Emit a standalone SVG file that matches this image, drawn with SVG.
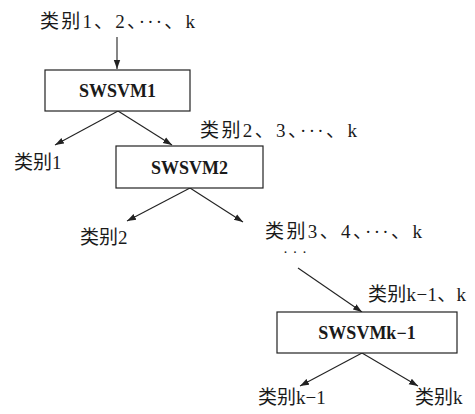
<svg xmlns="http://www.w3.org/2000/svg" width="475" height="414" viewBox="0 0 475 414">
<style>
.lbl{font-family:"Liberation Serif","Noto Sans CJK SC",serif;font-size:19px;fill:#1a1a1a}
.box rect{fill:#fff;stroke:#222;stroke-width:1.2}
.box text{font-family:"Liberation Serif","Noto Sans CJK SC",serif;font-size:18px;font-weight:bold;fill:#1a1a1a;text-anchor:middle}
.con line{stroke:#222;stroke-width:1.1;marker-end:url(#ah)}
</style>
<defs>
<marker id="ah" markerUnits="userSpaceOnUse" markerWidth="10" markerHeight="8" refX="9" refY="4" orient="auto">
<path d="M0,0.8 L9,4 L0,7.2 Z" fill="#222"/>
</marker>
</defs>
<rect width="475" height="414" fill="#fff"/>
<g id="connectors" class="con">
<line x1="117" y1="37" x2="117" y2="69"/>
<line x1="118" y1="111" x2="55" y2="145"/>
<line x1="118" y1="111" x2="172" y2="145"/>
<line x1="190" y1="188" x2="127" y2="221"/>
<line x1="190" y1="188" x2="243" y2="222"/>
<line x1="298" y1="268" x2="362" y2="312"/>
<line x1="362" y1="353" x2="300" y2="386"/>
<line x1="362" y1="353" x2="418" y2="386"/>
</g>
<g id="input"><text class="lbl" x="40" y="28" textLength="155" lengthAdjust="spacing">类别1、2、···、k</text></g>
<g id="swsvm1" class="box"><rect x="45" y="70" width="145" height="41"/><text x="117.5" y="97">SWSVM1</text></g>
<g id="class1"><text class="lbl" x="14" y="169">类别1</text></g>
<g id="rest2"><text class="lbl" x="200" y="137" textLength="157" lengthAdjust="spacing">类别2、3、···、k</text></g>
<g id="swsvm2" class="box"><rect x="116" y="146" width="147" height="42"/><text x="189.5" y="174">SWSVM2</text></g>
<g id="class2"><text class="lbl" x="80" y="244">类别2</text></g>
<g id="rest3"><text class="lbl" x="265" y="238" textLength="157" lengthAdjust="spacing">类别3、4、···、k</text></g>
<g id="ellipsis"><text class="lbl" x="283" y="256.5" font-size="15" style="font-size:15px" textLength="24" lengthAdjust="spacing">···</text></g>
<g id="restk"><text class="lbl" x="368" y="301" textLength="98" lengthAdjust="spacing">类别k−1、k</text></g>
<g id="swsvmk1" class="box"><rect x="277" y="312" width="180" height="41"/><text x="367" y="339">SWSVMk−1</text></g>
<g id="classk1"><text class="lbl" x="258" y="404">类别k−1</text></g>
<g id="classk"><text class="lbl" x="415" y="404">类别k</text></g>
</svg>
